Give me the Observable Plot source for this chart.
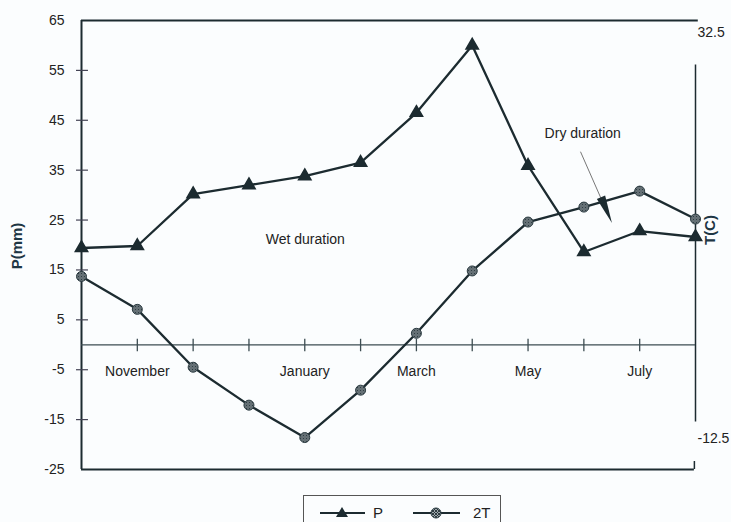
<!DOCTYPE html>
<html>
<head>
<meta charset="utf-8">
<script src="https://cdn.jsdelivr.net/npm/d3@7"></script>
<script src="https://cdn.jsdelivr.net/npm/@observablehq/plot@0.6"></script>
<style>
  html, body { margin: 0; padding: 0; background: #fbfdfe; }
  body { width: 731px; height: 522px; overflow: hidden; font-family: "Liberation Sans", Arial, sans-serif; }
  #legend { position: relative; margin-left: 303px; margin-top: 3px; width: 198px; height: 40px;
            border: 1px solid #555; border-bottom: none; box-sizing: border-box; }
  #legend svg { display: block; }
</style>
</head>
<body>
<div id="chart"></div>
<div id="legend"></div>
<script>
// ---- data ----
const idx = [0, 1, 2, 3, 4, 5, 6, 7, 8, 9, 10, 11];
const P  = [19.4, 19.8, 30.2, 32.0, 33.8, 36.5, 46.5, 60.0, 35.9, 18.6, 22.8, 21.6];
const T2 = [13.7, 7.1, -4.5, -12.1, -18.6, -9.1, 2.3, 14.8, 24.6, 27.6, 30.8, 25.2];
const monthLabels = ["November", "January", "March", "May", "July"];
const monthIdx = [1, 4, 6, 8, 10];
const leftTicks = [65, 55, 45, 35, 25, 15, 5, -5, -15, -25];
const rightTicks = [32.5, -12.5];

const pData = idx.map((i, k) => ({i, v: P[k]}));
const tData = idx.map((i, k) => ({i, v: T2[k]}));
const mData = monthIdx.map((i, k) => ({i, label: monthLabels[k]}));

const ink = "#1c2b30";

const arrowHead = {
  draw(context) {
    context.moveTo(0, -14);
    context.lineTo(4.5, 14);
    context.lineTo(-4.5, 14);
    context.closePath();
  }
};

const chart = Plot.plot({
  width: 731,
  height: 492,
  marginLeft: 81,
  marginRight: 36,
  marginTop: 20,
  marginBottom: 23,
  x: {domain: [0, 11], axis: null},
  y: {domain: [-25, 65], axis: null},
  style: {fontFamily: "'Liberation Sans', Arial, sans-serif", fontSize: "14px", background: "#fbfdfe", color: "#222"},
  marks: [
    // frame lines
    Plot.ruleY([65], {x1: 0, x2: 11.05, stroke: ink, strokeWidth: 2}),
    Plot.ruleY([-25], {x1: 0, x2: 10.98, stroke: ink, strokeWidth: 2}),
    Plot.ruleX([0], {y1: -25, y2: 65, stroke: ink, strokeWidth: 2}),
    Plot.ruleX([11], {y1: 56.1, y2: -15.5, stroke: ink, strokeWidth: 1.5}),
    Plot.ruleX([10.98], {y1: -23.4, y2: -25, stroke: ink, strokeWidth: 1.5}),
    // left axis
    Plot.axisY({ticks: leftTicks, tickSize: 0, tickPadding: 17, fontSize: 14, fill: "#222", label: null, tickFormat: d => String(d)}),
    Plot.ruleY(leftTicks.filter(t => t !== 65 && t !== -25), {x1: -0.09, x2: 0.125, stroke: "#445", strokeWidth: 1.2}),
    // zero line with ticks
    Plot.ruleY([0], {x1: 0, x2: 11, stroke: "#3d4d52", strokeWidth: 1.3}),
    Plot.ruleX(idx.slice(1, 11), {y1: -1.4, y2: 1.1, stroke: "#3d4d52", strokeWidth: 1.3}),
    // month labels
    Plot.text(mData, {x: "i", y: 0, text: "label", dy: 27, fontSize: 14, fill: "#222"}),
    // right axis labels (T = 2T/2)
    Plot.text([rightTicks[0]], {x: 11, y: d => 2 * d, text: d => String(d), dy: 12, dx: 2, textAnchor: "start", fontSize: 14, fill: "#222"}),
    Plot.text([rightTicks[1]], {x: 11, y: d => 2 * d, text: d => String(d), dy: -31, dx: 2, textAnchor: "start", fontSize: 14, fill: "#222"}),
    // axis titles
    Plot.text(["P(mm)"], {x: -1.147, y: 19.8, rotate: -90, fontWeight: "bold", fontSize: 15, fill: "#1e3644"}),
    Plot.text(["T(C)"], {x: 11.27, y: 23, rotate: -90, fontWeight: "bold", fontSize: 15, fill: "#1e3644"}),
    // annotations
    Plot.text(["Wet duration"], {x: 4.01, y: 21, fontSize: 14, fill: "#222"}),
    Plot.text(["Dry duration"], {x: 8.98, y: 42.3, fontSize: 14, fill: "#222"}),
    Plot.link([0], {x1: 8.94, y1: 38.7, x2: 9.36, y2: 28.0, stroke: "#777", strokeWidth: 1}),
    Plot.dot([0], {x: 9.405, y: 27.0, symbol: arrowHead, fill: ink, stroke: "none", rotate: 157}),
    // series
    Plot.line(pData, {x: "i", y: "v", stroke: ink, strokeWidth: 2.3}),
    Plot.line(tData, {x: "i", y: "v", stroke: ink, strokeWidth: 2.3}),
    Plot.dot(pData, {x: "i", y: "v", symbol: "triangle", r: 4.6, fill: ink, stroke: ink}),
    Plot.dot(tData, {x: "i", y: "v", r: 5, fill: "url(#hatch)", stroke: "#2a3a40", strokeWidth: 1})
  ]
});

// hatched pattern for 2T markers
const ns = "http://www.w3.org/2000/svg";
const defs = document.createElementNS(ns, "defs");
defs.innerHTML = `<pattern id="hatch" width="3" height="3" patternUnits="userSpaceOnUse">
  <rect width="3" height="3" fill="#9ea8ac"></rect>
  <path d="M0,0L3,3M3,0L0,3" stroke="#223036" stroke-width="0.9"></path></pattern>`;
chart.insertBefore(defs, chart.firstChild);
document.getElementById("chart").appendChild(chart);

// legend (HTML below the plot)
const lg = document.getElementById("legend");
lg.innerHTML = `<svg width="196" height="40">
  <defs><pattern id="hatch2" width="3" height="3" patternUnits="userSpaceOnUse">
    <rect width="3" height="3" fill="#9ea8ac"></rect>
    <path d="M0,0L3,3M3,0L0,3" stroke="#223036" stroke-width="0.9"></path></pattern></defs>
  <line x1="16" x2="61" y1="17" y2="17" stroke="${ink}" stroke-width="2"></line>
  <path d="M38,11L44,21L32,21Z" fill="${ink}"></path>
  <text x="69" y="22" font-size="15" fill="#222">P</text>
  <line x1="109" x2="156" y1="17" y2="17" stroke="${ink}" stroke-width="2"></line>
  <circle cx="132" cy="17" r="5" fill="url(#hatch2)" stroke="#2a3a40"></circle>
  <text x="169" y="22" font-size="15" fill="#222">2T</text>
</svg>`;
</script>
</body>
</html>
